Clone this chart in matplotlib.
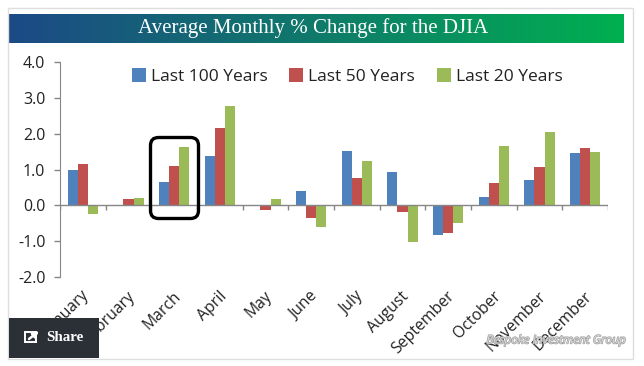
import matplotlib
matplotlib.use("Agg")
import matplotlib.pyplot as plt
import numpy as np
import matplotlib.patheffects as pe
from matplotlib.colors import LinearSegmentedColormap
from matplotlib.patches import FancyBboxPatch, Rectangle

months = ["January", "February", "March", "April", "May", "June", "July",
          "August", "September", "October", "November", "December"]
last_100 = [1.0, 0.01, 0.65, 1.37, 0.02, 0.4, 1.52, 0.92, -0.82, 0.23, 0.7, 1.45]
last_50 = [1.15, 0.17, 1.1, 2.15, -0.12, -0.35, 0.77, -0.18, -0.77, 0.62, 1.07, 1.6]
last_20 = [-0.25, 0.2, 1.63, 2.78, 0.17, -0.6, 1.25, -1.03, -0.48, 1.66, 2.05, 1.5]
y_ticks = [-2, -1, 0, 1, 2, 3, 4]

W, H = 644, 366
plt.rcParams['font.family'] = ['Open Sans', 'DejaVu Sans']

fig = plt.figure(figsize=(W/100, H/100), dpi=100, facecolor='white')

ax = fig.add_axes([60/W, 1-277.3/H, 548/W, 215.6/H])
x = np.arange(12)
w = 0.219
grey = '#868686'
ax.bar(x-w, last_100, w, color='#4f81bd', label='Last 100 Years')
ax.bar(x, last_50, w, color='#c0504d', label='Last 50 Years')
ax.bar(x+w, last_20, w, color='#9bbb59', label='Last 20 Years')
ax.set_xlim(-0.5, 11.5)
ax.set_ylim(-2, 4)
ax.set_yticks(y_ticks)
ax.set_yticklabels(['%.1f' % v for v in y_ticks], fontsize=11.5, color='#222222')
ax.tick_params(axis='y', length=4.5, width=1, color=grey, pad=6)
for s in ['top', 'right', 'bottom']:
    ax.spines[s].set_visible(False)
ax.spines['left'].set_color(grey)

# zero line with the group ticks
ax.axhline(0, color=grey, lw=1, zorder=1)
ax.set_xticks(np.arange(-0.5, 12, 1))
ax.set_xticklabels([])
ax.tick_params(axis='x', length=0)
ax.vlines(np.arange(-0.5, 12, 1), -0.13, 0, color=grey, lw=1, zorder=1)

for i, m in enumerate(months):
    ax.annotate(m, (i, -2), xytext=(-1, -8), textcoords='offset points', rotation=45,
                ha='right', va='top', rotation_mode='anchor', fontsize=11.3,
                color='#222222', annotation_clip=False)

ax.legend(loc='upper left', bbox_to_anchor=(0.115, 1.01), ncol=3, frameon=False, fontsize=12.5,
          handlelength=0.8, handleheight=0.8, handletextpad=0.3, columnspacing=1.25,
          labelcolor='#222222', borderaxespad=0.1)

# overlay in pixel coordinates for the page furniture
ov = fig.add_axes([0, 0, 1, 1], facecolor='none')
ov.axis('off')

ov.add_patch(Rectangle((8.5, 7.5), 625, 351, fill=False, ec='#dedede', lw=1))

cmap = LinearSegmentedColormap.from_list('band', ['#1c4a86', '#0f7a6a', '#00b050'])
ov.imshow(np.linspace(0, 1, 256).reshape(1, -1), cmap=cmap, extent=[9, 624, 43, 14], aspect='auto')
ov.set_xlim(0, W)
ov.set_ylim(H, 0)
ov.text(313, 28, 'Average Monthly % Change for the DJIA', color='white', fontsize=15,
        family=['Liberation Serif'], ha='center', va='center')

# highlight round March
ov.add_patch(FancyBboxPatch((150.5, 137.5), 48, 81, boxstyle='round,pad=0,rounding_size=8',
                            fill=False, ec='black', lw=2.4))

# share button
ov.add_patch(Rectangle((9, 318), 90, 40, fc='#2b2f36', ec='none'))
ov.add_patch(Rectangle((25, 332), 11, 10, fill=False, ec='white', lw=1.4))
ov.annotate('', xy=(39, 331), xytext=(29, 339),
            arrowprops=dict(arrowstyle='-|>', color='white', lw=1.8, mutation_scale=8, shrinkA=0, shrinkB=0))
ov.text(46.5, 337.5, 'Share', color='white', fontsize=10.8, fontweight='bold',
        family=['Liberation Serif'], va='center')

# watermark
ov.text(625, 340, 'Bespoke Investment Group', color='#d8d8d8', fontsize=8.5, style='italic',
        ha='right', va='center', family=['Open Sans'],
        path_effects=[pe.withStroke(linewidth=1, foreground='#a0a0a0')])

fig.savefig('out.png', dpi=100)
